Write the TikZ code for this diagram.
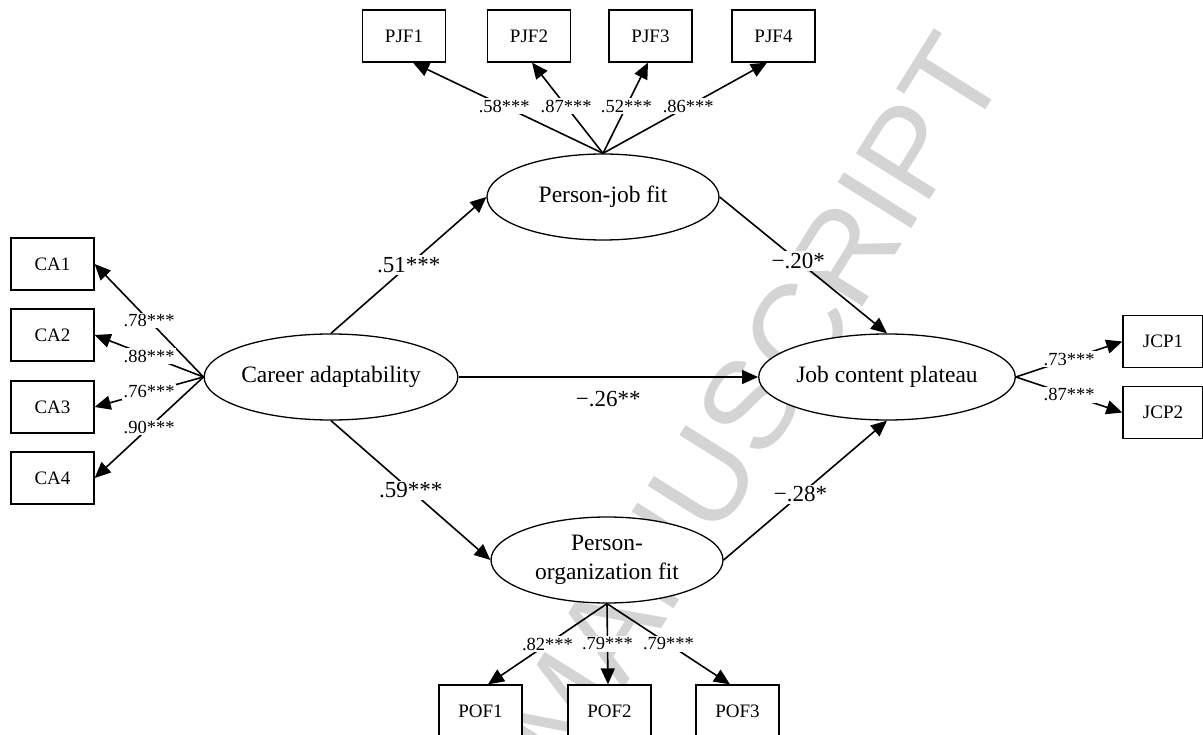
\documentclass[tikz,border=0pt]{standalone}
\usepackage{fontspec}
\setmainfont{Liberation Serif}
\newfontfamily\wmfont{Liberation Sans}
\usetikzlibrary{arrows.meta,shapes.geometric}
\begin{document}
\begin{tikzpicture}[x=1pt,y=-1pt,
  every node/.style={inner sep=0pt},
  obs/.style={draw, line width=1.3pt, fill=white, minimum width=83pt, minimum height=52pt, font=\fontsize{19}{22}\selectfont},
  lat/.style={draw, ellipse, line width=1.3pt, fill=white, minimum width=232pt, minimum height=86pt, align=center, font=\fontsize{23.5}{29}\selectfont},
  conn/.style={line width=1.6pt, -{Triangle[length=16pt,width=14pt]}},
  small/.style={fill=white, inner sep=1.5pt, font=\fontsize{18.5}{20}\selectfont},
  big/.style={fill=white, inner sep=2pt, font=\fontsize{23}{26}\selectfont},
]
\useasboundingbox (0,0) rectangle (1203,735);
\clip (0,0) rectangle (1203,735);
% watermark
\node[rotate=58, text=black!17, font=\wmfont\fontsize{126}{128}\selectfont] (wm) at (752,402) {MANUSCRIPT};

% latent variables
\node[lat] (ca) at (331,377) {Career adaptability};
\node[lat] (pj) at (603,197) {Person-job fit};
\node[lat] (pof) at (607,560) {Person-\\organization fit};
\node[lat] (jcp) at (887,377) {Job content plateau};

% indicators
\node[obs] (pjf1) at (404,36) {PJF1};
\node[obs] (pjf2) at (529,36) {PJF2};
\node[obs] (pjf3) at (650.5,36) {PJF3};
\node[obs] (pjf4) at (773.5,36) {PJF4};
\node[obs] (ca1) at (52.5,264) {CA1};
\node[obs] (ca2) at (52.5,335) {CA2};
\node[obs] (ca3) at (52.5,407) {CA3};
\node[obs] (ca4) at (52.5,478) {CA4};
\node[obs, minimum width=80pt] (jcp1) at (1163,341.5) {JCP1};
\node[obs, minimum width=80pt] (jcp2) at (1163,412.5) {JCP2};
\node[obs] (pof1) at (480.5,711) {POF1};
\node[obs] (pof2) at (609.5,711) {POF2};
\node[obs] (pof3) at (737.5,711) {POF3};

% loadings
\draw[conn] (pj.north) -- node[small,pos=0.52]{.58***} ([xshift=9pt]pjf1.south);
\draw[conn] (pj.north) -- node[small,pos=0.52]{.87***} ([xshift=3pt]pjf2.south);
\draw[conn] (pj.north) -- node[small,pos=0.52]{.52***} ([xshift=-2.5pt]pjf3.south);
\draw[conn] (pj.north) -- node[small,pos=0.52]{.86***} ([xshift=-6.5pt]pjf4.south);

\draw[conn] (ca.west) -- node[small,pos=0.5]{.78***} (ca1.east);
\draw[conn] (ca.west) -- node[small,pos=0.5]{.88***} (ca2.east);
\draw[conn] (ca.west) -- node[small,pos=0.5]{.76***} (ca3.east);
\draw[conn] (ca.west) -- node[small,pos=0.5]{.90***} (ca4.east);

\draw[conn] (jcp.east) -- node[small,pos=0.5]{.73***} (jcp1.west);
\draw[conn] (jcp.east) -- node[small,pos=0.5]{.87***} (jcp2.west);

\draw[conn] (pof.south) -- node[small,pos=0.5]{.82***} ([xshift=7.5pt]pof1.north);
\draw[conn] (pof.south) -- node[small,pos=0.5]{.79***} ([xshift=-1.5pt]pof2.north);
\draw[conn] (pof.south) -- node[small,pos=0.5]{.79***} ([xshift=-7.5pt]pof3.north);

% structural paths
\draw[conn] (ca.north) -- node[big,pos=0.5]{.51***} (pj.west);
\draw[conn] (ca.south) -- node[big,pos=0.5]{.59***} (pof.west);
\draw[conn] (ca.east) -- node[big,pos=0.5,yshift=-22pt]{−.26**} (jcp.west);
\draw[conn] (pj.east) -- node[big,pos=0.47]{−.20*} (jcp.north);
\draw[conn] (pof.east) -- node[big,pos=0.47]{−.28*} (jcp.south);
\end{tikzpicture}
\end{document}
